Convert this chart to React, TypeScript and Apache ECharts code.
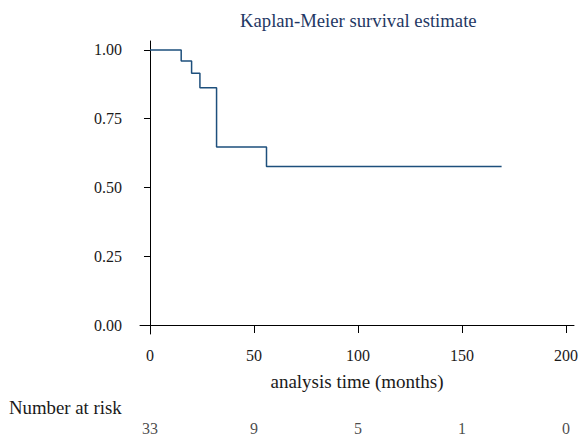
import React, { useEffect, useRef } from "react";
import * as echarts from "echarts";

const times = [0, 15, 20, 24, 32, 56, 169];
const survival = [1.0, 0.96, 0.915, 0.863, 0.647, 0.576, 0.576];
const xTicks = [0, 50, 100, 150, 200];
const yTicks = [0, 0.25, 0.5, 0.75, 1.0];
const atRiskTimes = [0, 50, 100, 150, 200];
const atRiskCounts = [33, 9, 5, 1, 0];

const FONT = "'Liberation Serif', 'Times New Roman', 'DejaVu Serif', serif";

export default function App() {
  const ref = useRef<HTMLDivElement>(null);
  useEffect(() => {
    document.body.style.margin = "0";
    const chart = echarts.init(ref.current!, null, { renderer: "svg" });
    const xMin = -4.8;
    const xMax = 203.8;
    chart.setOption({
      animation: false,
      title: {
        text: "Kaplan-Meier survival estimate",
        left: 235,
        top: 6,
        textStyle: { fontFamily: FONT, fontSize: 18.7, fontWeight: "normal", color: "#1f3864" },
      },
      grid: [
        { left: 140, right: 5, top: 41, bottom: 104, outerBoundsMode: "none" },
        { left: 140, right: 5, top: 418, height: 20, outerBoundsMode: "none" },
      ],
      xAxis: [
        {
          type: "value",
          gridIndex: 0,
          min: xMin,
          max: xMax,
          splitLine: { show: false },
          axisLine: { show: true, lineStyle: { color: "#000", width: 1 } },
          axisTick: { show: true, length: 8, customValues: xTicks, lineStyle: { color: "#000" } },
          axisLabel: {
            customValues: xTicks,
            margin: 13,
            fontFamily: FONT,
            fontSize: 16,
            color: "#1a1a1a",
          },
          name: "analysis time (months)",
          nameLocation: "middle",
          nameGap: 38,
          nameTextStyle: { fontFamily: FONT, fontSize: 19, color: "#1a1a1a" },
        },
        {
          type: "value",
          gridIndex: 1,
          min: xMin,
          max: xMax,
          show: false,
        },
      ],
      yAxis: [
        {
          type: "value",
          gridIndex: 0,
          min: -0.0327,
          max: 1.0327,
          splitLine: { show: false },
          axisLine: { show: true, lineStyle: { color: "#000", width: 1 } },
          axisTick: { show: true, length: 6, customValues: yTicks, lineStyle: { color: "#000" } },
          axisLabel: {
            customValues: yTicks,
            margin: 18,
            fontFamily: FONT,
            fontSize: 16,
            color: "#1a1a1a",
            formatter: (v: number) => v.toFixed(2),
          },
        },
        { type: "value", gridIndex: 1, min: 0, max: 1, show: false },
      ],
      graphic: [
        {
          type: "text",
          left: 9,
          top: 398,
          style: { text: "Number at risk", fontFamily: FONT, fontSize: 18.8, fill: "#1a1a1a" },
        },
      ],
      series: [
        {
          type: "line",
          xAxisIndex: 0,
          yAxisIndex: 0,
          step: "end",
          symbol: "none",
          data: times.map((t, i) => [t, survival[i]]),
          lineStyle: { color: "#1d4f7c", width: 1.5 },
        },
        {
          type: "scatter",
          xAxisIndex: 1,
          yAxisIndex: 1,
          symbolSize: 1,
          itemStyle: { color: "rgba(0,0,0,0)" },
          data: atRiskTimes.map((t, i) => [t, 0.5, atRiskCounts[i]]),
          label: {
            show: true,
            position: "inside",
            formatter: (p: any) => String(p.value[2]),
            fontFamily: FONT,
            fontSize: 16,
            color: "#1a1a1a",
          },
        },
      ],
    });
    return () => chart.dispose();
  }, []);
  return <div ref={ref} style={{ width: 579, height: 438 }} />;
}
